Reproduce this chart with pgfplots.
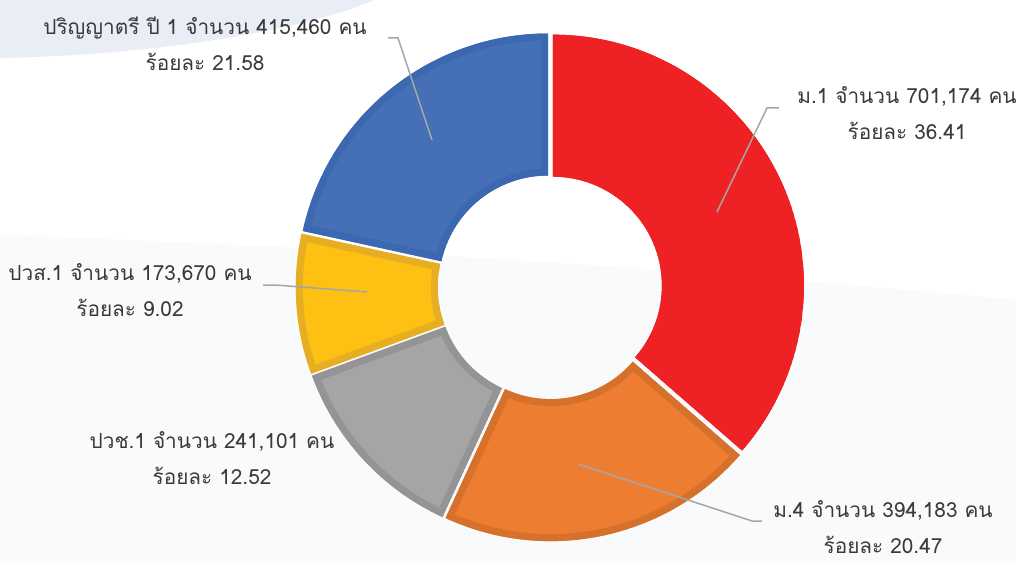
\documentclass[border=0pt]{standalone}
\usepackage{fontspec}
\setmainfont[Script=Thai]{Loma}
\usepackage{pgfplots}
\pgfplotsset{compat=1.18}
\definecolor{cred}{HTML}{EE2224}
\definecolor{corange}{HTML}{ED7D31}
\definecolor{corangeb}{HTML}{D5712B}
\definecolor{cgray}{HTML}{A5A5A5}
\definecolor{cgrayb}{HTML}{949494}
\definecolor{cyellow}{HTML}{FDC013}
\definecolor{cyellowb}{HTML}{E6AE22}
\definecolor{cblue}{HTML}{4570B6}
\definecolor{cblueb}{HTML}{3B68B0}
\definecolor{bgblue}{HTML}{E9EDF5}
\definecolor{bglow}{HTML}{F8FAFC}
\definecolor{ldr}{HTML}{A6A6A6}
\definecolor{txt}{HTML}{3A3A3A}
% centre (pixels) 550,287 ; outer radius 251 px = 125.5pt ; inner 109 px = 54.5pt
\newcommand{\secpath}[2]{(axis cs:550,287) ++({90-3.6*#1}:125.5pt)
  arc[start angle={90-3.6*#1}, end angle={90-3.6*(#1+#2)}, radius=125.5pt]
  -- ([shift={({90-3.6*(#1+#2)}:54.5pt)}]axis cs:550,287)
  arc[start angle={90-3.6*(#1+#2)}, end angle={90-3.6*#1}, radius=54.5pt] -- cycle}
% #1 cumulative start (percent), #2 share (percent), #3 fill, #4 border
\newcommand{\sector}[4]{%
  \begin{scope}[shift={({90-3.6*(#1+#2/2)}:1.6pt)}]
    \clip \secpath{#1}{#2};
    \filldraw[fill=#3, draw=#4, line width=7pt] \secpath{#1}{#2};
  \end{scope}}
\begin{document}
\begin{tikzpicture}
\begin{axis}[
  width=508pt, height=280.5pt, scale only axis,
  xmin=0, xmax=1016, ymin=0, ymax=561, y dir=reverse,
  hide axis, clip=false,
]
\coordinate (BL) at (axis cs:0,561);
\coordinate (TR) at (axis cs:1016,0);
% background
\fill[white] (axis cs:0,0) rectangle (axis cs:1016,561);
\fill[bglow] (axis cs:0,235) .. controls (axis cs:400,250) and (axis cs:700,270) .. (axis cs:1016,300) -- (axis cs:1016,561) -- (axis cs:0,561) -- cycle;
\fill[bgblue] (axis cs:0,0) -- (axis cs:374,0) .. controls (axis cs:300,32) and (axis cs:150,55) .. (axis cs:0,58) -- cycle;
% donut: shares in percent (clockwise from top)
\sector{0}{36.41}{cred}{cred}
\sector{36.41}{20.47}{corange}{corangeb}
\sector{56.88}{12.52}{cgray}{cgrayb}
\sector{69.40}{9.02}{cyellow}{cyellowb}
\sector{78.42}{21.58}{cblue}{cblueb}
% leader lines
\draw[ldr, line width=0.75pt] (axis cs:432,140) -- (axis cs:398,38) -- (axis cs:388,38);
\draw[ldr, line width=0.75pt] (axis cs:717,212) -- (axis cs:767,108) -- (axis cs:779,108);
\draw[ldr, line width=0.75pt] (axis cs:367,292) -- (axis cs:275,285) -- (axis cs:263,285);
\draw[ldr, line width=0.75pt] (axis cs:578,464) -- (axis cs:752,521) -- (axis cs:762,521);
% labels
\begin{scope}[every node/.style={text=txt, align=center, inner sep=0pt, font=\fontsize{10.4}{18}\selectfont}]
\node at (axis cs:205,44) {ปริญญาตรี ปี 1 จำนวน 415,460 คน\\ร้อยละ 21.58};
\node at (axis cs:907,113) {ม.1 จำนวน 701,174 คน\\ร้อยละ 36.41};
\node at (axis cs:130,290) {ปวส.1 จำนวน 173,670 คน\\ร้อยละ 9.02};
\node at (axis cs:212,458) {ปวช.1 จำนวน 241,101 คน\\ร้อยละ 12.52};
\node at (axis cs:883,527) {ม.4 จำนวน 394,183 คน\\ร้อยละ 20.47};
\end{scope}
\end{axis}
\pgfresetboundingbox
\useasboundingbox (BL) rectangle (TR);
\end{tikzpicture}
\end{document}
